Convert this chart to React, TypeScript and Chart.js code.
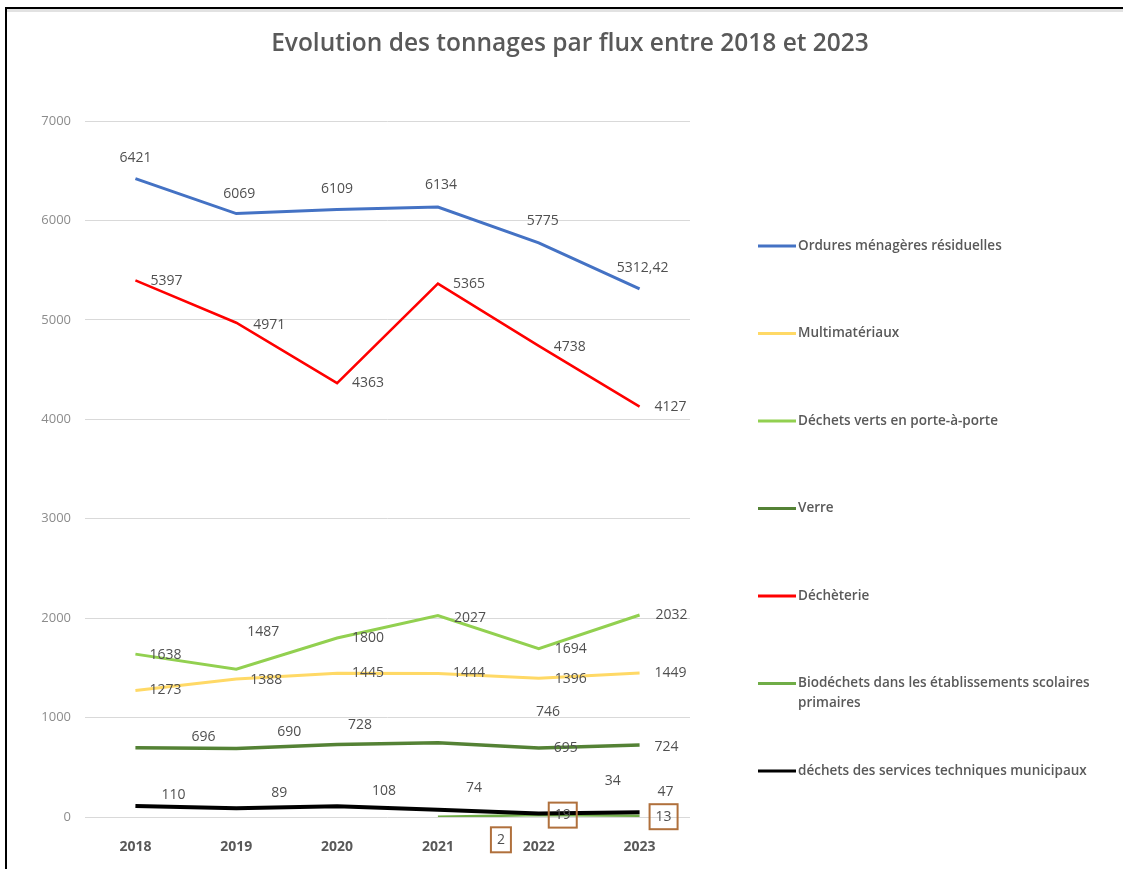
import React, { useEffect, useRef } from 'react';
import { Chart, registerables } from 'chart.js';

Chart.register(...registerables);

// ---- Data ----
const YEARS = ['2018', '2019', '2020', '2021', '2022', '2023'];
const ORDURES = [6421, 6069, 6109, 6134, 5775, 5312.42];
const MULTIMATERIAUX = [1273, 1388, 1445, 1444, 1396, 1449];
const DECHETS_VERTS = [1638, 1487, 1800, 2027, 1694, 2032];
const VERRE = [696, 690, 728, 746, 695, 724];
const DECHETERIE = [5397, 4971, 4363, 5365, 4738, 4127];
const BIODECHETS = [null, null, null, 2, 19, 13];
const SERVICES_TECH = [110, 89, 108, 74, 34, 47];

const Y_MIN = 0;
const Y_MAX = 7000;
const Y_STEP = 1000;

const TITLE = 'Evolution des tonnages par flux entre 2018 et 2023';
const SERIES_NAMES = [
  'Ordures ménagères résiduelles',
  'Multimatériaux',
  'Déchets verts en porte-à-porte',
  'Verre',
  'Déchèterie',
  'Biodéchets dans les établissements scolaires primaires',
  'déchets des services techniques municipaux',
];

// ---- Styles ----
const COLORS = ['#4472C4', '#FFD966', '#92D050', '#548235', '#FF0000', '#70AD47', '#000000'];
const WIDTHS = [3, 3, 3, 3.5, 2.5, 2.5, 4];
// label offsets (dx, dy) relative to each point, in pixels
const LABEL_OFFSETS: (number[] | null)[][] = [
  [[0, -21], [3, -20], [0, -21], [3, -22], [4, -22], [3, -21]],
  [[30, 0], [30, 1], [31, 0], [31, 0], [32, 1], [31, 0]],
  [[30, 1], [27, -37], [31, 0], [32, 3], [32, 0], [32, 0]],
  [[68, -11], [53, -16], [23, -20], [110, -31], [27, 0], [27, 2]],
  [[31, 1], [33, 2], [31, 0], [31, 0], [31, 1], [31, 0]],
  [null, null, null, [63, 23], [24, 0], [24, 1]],
  [[38, -11], [43, -15], [47, -15], [36, -22], [74, -33], [26, -20]],
];
const BOXED = [false, false, false, false, false, true, false];

const FONT = '"Open Sans", "Liberation Sans", sans-serif';

function fmt(v: number) {
  return String(v).replace('.', ',');
}

const overlayPlugin = {
  id: 'overlay',
  afterDatasetsDraw(chart: any) {
    const ctx: CanvasRenderingContext2D = chart.ctx;
    ctx.save();
    ctx.font = `14px ${FONT}`;
    ctx.textAlign = 'center';
    ctx.textBaseline = 'middle';
    chart.data.datasets.forEach((ds: any, i: number) => {
      const meta = chart.getDatasetMeta(i);
      meta.data.forEach((pt: any, j: number) => {
        const v = ds.data[j];
        const off = LABEL_OFFSETS[i][j];
        if (v == null || !off) return;
        const x = pt.x + off[0];
        const y = pt.y + off[1];
        const txt = fmt(v);
        ctx.fillStyle = '#505050';
        ctx.fillText(txt, x, y);
        if (BOXED[i]) {
          const w = ctx.measureText(txt).width + 12;
          const h = 25;
          ctx.strokeStyle = '#B0703C';
          ctx.lineWidth = 2;
          ctx.strokeRect(x - w / 2, y - h / 2, w, h);
        }
      });
    });
    ctx.restore();
  },
  afterDraw(chart: any) {
    const ctx: CanvasRenderingContext2D = chart.ctx;
    ctx.save();
    // frame
    ctx.fillStyle = '#e2e2e2';
    ctx.fillRect(7, 9, 1116, 3);
    ctx.fillStyle = '#000';
    ctx.fillRect(5, 7, 2, 862);
    ctx.fillRect(5, 7, 1118, 2);
    // title
    ctx.fillStyle = '#595959';
    ctx.font = `600 24.5px ${FONT}`;
    ctx.textAlign = 'center';
    ctx.textBaseline = 'middle';
    ctx.fillText(TITLE, 570, 44);
    // legend
    ctx.font = `600 13.5px ${FONT}`;
    ctx.textAlign = 'left';
    const maxW = 305;
    chart.data.datasets.forEach((ds: any, i: number) => {
      const y = 246 + i * 87.5;
      ctx.strokeStyle = ds.borderColor;
      ctx.lineWidth = 3;
      ctx.beginPath();
      ctx.moveTo(758, y);
      ctx.lineTo(796, y);
      ctx.stroke();
      ctx.fillStyle = '#595959';
      const words = String(ds.label).split(' ');
      let line = '';
      let ly = y;
      words.forEach((w: string) => {
        const test = line ? line + ' ' + w : w;
        if (ctx.measureText(test).width > maxW && line) {
          ctx.fillText(line, 798, ly);
          line = w;
          ly += 20;
        } else {
          line = test;
        }
      });
      ctx.fillText(line, 798, ly);
    });
    ctx.restore();
  },
};

export default function App() {
  const ref = useRef<HTMLCanvasElement>(null);

  useEffect(() => {
    const seriesData = [ORDURES, MULTIMATERIAUX, DECHETS_VERTS, VERRE, DECHETERIE, BIODECHETS, SERVICES_TECH];
    const chart = new Chart(ref.current as HTMLCanvasElement, {
      type: 'line',
      data: {
        labels: YEARS,
        datasets: seriesData.map((d, i) => ({
          label: SERIES_NAMES[i],
          data: d as any,
          borderColor: COLORS[i],
          backgroundColor: COLORS[i],
          borderWidth: WIDTHS[i],
          pointRadius: 0,
          pointHoverRadius: 0,
          tension: 0,
          fill: false,
          spanGaps: false,
          order: i === 6 ? -1 : i,
        })),
      },
      options: {
        responsive: false,
        animation: false,
        devicePixelRatio: 1,
        layout: { padding: { left: 0, right: 433, top: 121, bottom: 0 } },
        plugins: {
          legend: { display: false },
          title: { display: false },
          tooltip: { enabled: false },
        },
        scales: {
          x: {
            offset: true,
            grid: { display: false },
            border: { display: false },
            ticks: {
              color: '#595959',
              font: { family: FONT, size: 14, weight: 'bold' },
              padding: 14,
              maxRotation: 0,
            },
            afterFit: (s: any) => { s.height = 52; },
          },
          y: {
            min: Y_MIN,
            max: Y_MAX,
            grid: { color: '#d9d9d9', lineWidth: 1, drawTicks: false },
            border: { display: false },
            ticks: {
              stepSize: Y_STEP,
              color: '#8c8c8c',
              font: { family: FONT, size: 13 },
              padding: 14,
              callback: (v: any) => String(v),
            },
            afterFit: (s: any) => { s.width = 85; },
          },
        },
      },
      plugins: [overlayPlugin],
    });
    return () => chart.destroy();
  }, []);

  return (
    <div style={{ position: 'absolute', left: 0, top: 0, width: 1123, height: 869, background: '#fff' }}>
      <canvas ref={ref} width={1123} height={869} style={{ display: 'block' }} />
    </div>
  );
}
